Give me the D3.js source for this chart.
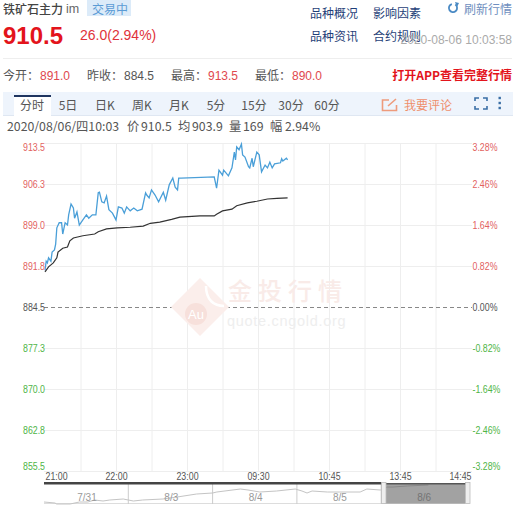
<!DOCTYPE html>
<html><head><meta charset="utf-8">
<script src="https://cdn.jsdelivr.net/npm/d3@7/dist/d3.min.js"></script>
<style>
html,body{margin:0;padding:0;background:#fff;overflow:hidden}
svg{display:block}
text{font-family:"Noto Sans CJK SC","Liberation Sans",sans-serif}
.num{font-family:"Liberation Sans",sans-serif}
</style></head><body><svg id="c" width="517" height="507"></svg>
<script>
// ---- data ----
const priceMinutes=[0,1,2,3,5,6,8,9,10,12,14,15,17,19,20,22,24,25,27,29,32,35,37,40,43,45,46,48,50,52,54,57,60,62,65,67,69,72,75,78,82,85,86,88,90,93,96,100,102,105,108,110,112,113,115,143,145,147,150,151,155,158,160,161,162,164,166,167,169,172,173,175,176,179,181,183,186,188,190,192,194,199,200,201,204,205];
const prices=[891.0,892.6,892.3,893.2,892.6,894.2,894.6,895.6,898.5,899.4,899.4,897.4,899.4,899.0,900.8,902.7,902.0,900.2,901.3,899.0,899.9,900.8,900.2,900.8,900.8,904.7,904.8,903.1,902.9,904.1,901.7,901.1,899.9,902.2,902.0,901.1,902.2,901.5,902.0,901.5,901.8,904.7,904.3,903.8,905.2,904.3,903.1,904.8,903.4,906.1,907.3,905.7,905.2,907.3,907.3,907.5,905.5,908.7,907.8,908.7,907.7,909.1,911.9,910.5,912.8,912.3,913.3,911.4,911.0,909.3,909.1,910.8,909.3,911.9,911.4,908.4,909.6,909.1,910.1,909.1,909.8,910.0,910.7,910.3,910.8,910.5];
const avgMinutes=[0,3,7,10,11,15,19,21,24,32,42,45,52,61,72,83,89,97,107,114,131,143,145,150,158,162,171,179,188,196,205];
const avgPrices=[890.7,891.6,892.3,893.2,894.2,894.9,895.1,896.2,896.7,897.1,897.4,897.8,898.3,898.5,898.6,898.8,899.3,899.5,900.0,900.4,900.6,900.6,900.9,901.5,901.8,902.4,902.9,903.2,903.6,903.7,903.8];
const priceTicks=[913.5,906.25,899,891.75,884.5,877.25,870,862.75,855.5];
const priceLabels=["913.5","906.3","899.0","891.8","884.5","877.3","870.0","862.8","855.5"];
const pctTicks=[3.28,2.46,1.64,0.82,0,-0.82,-1.64,-2.46,-3.28];
const pctLabels=["3.28%","2.46%","1.64%","0.82%","0.00%","-0.82%","-1.64%","-2.46%","-3.28%"];
const timeTicks=[0,60,120,180,240,300,360];
const timeLabels=["21:00","22:00","23:00","09:30","10:45","13:45","14:45"];
const gridMinutes=[30,60,90,120,150,180,210,240,270,300,330];
const sparkDays=[0,.13,.15,.31,.42,.52,.6,.7,.78,.94,1,1.06,1.17,1.41,1.58,1.81,2,2.05,2.33,2.42,2.56,2.76,2.98,3.06,3.12,3.18,3.36,3.51,3.75,3.83,3.99,4.07,4.14,4.31,4.56];
const sparkLevels=[2,1,0,0,2,2,4,3,4,5,4,3,4,5,7,10,11,12,15,14,12,13,15,13,11,13,12,12,12,15,14,17,17,18,19];
const dayLabels=["7/31","8/3","8/4","8/5","8/6"];
const tabs=["分时","5日","日K","周K","月K","5分","15分","30分","60分"];
const tabX=[32,68,105,142,179,216,254,291,327];
const stats=[["今开：","891.0",3],["昨收：","884.5",87],["最高：","913.5",171],["最低：","890.0",255]];
const links=[["品种概况",310,13],["影响因素",373,13],["品种资讯",310,36],["合约规则",373,36]];
const quoteInfo=[["2020/08/06/四10:03",7],["价",127],["910.5",141],["均",178],["903.9",192],["量",229],["169",243],["幅",270],["2.94%",285]];

const svg=d3.select("#c");
const T=(s,x,y,o={})=>svg.append("text").text(s).attr("x",x).attr("y",y)
  .attr("font-size",o.size||12).attr("fill",o.fill||"#555").attr("font-weight",o.w||400)
  .attr("text-anchor",o.a||"start").attr("class",o.cls||null).attr("letter-spacing",o.ls||null);
const squeeze=(sel,k)=>sel.each(function(){
  const w=this.getComputedTextLength();
  d3.select(this).attr("textLength",w*k).attr("lengthAdjust","spacingAndGlyphs");
});

// header
svg.append("rect").attr("x",87).attr("y",0).attr("width",44).attr("height",16).attr("fill","#dcebf9");
T("铁矿石主力",3,14,{size:12,fill:"#444",w:500});
T("im",66,13,{size:12.5,fill:"#666",cls:"num"});
T("交易中",92,14,{size:12,fill:"#5b9bd5"});
T("910.5",3,44,{size:24,fill:"#e3141c",w:700,cls:"num"});
T("26.0(2.94%)",80,40,{size:14,fill:"#e0323a",cls:"num"});
links.forEach(l=>T(l[0],l[1],l[2]+4.5,{size:12,fill:"#1f3f78"}));
T("2020-08-06 10:03:58",512,44,{size:12,fill:"#aaa",a:"end",cls:"num"});
T("刷新行情",464,14,{size:12,fill:"#6f8fc0"});
const r=svg.append("g").attr("transform","translate(453,8)");
r.append("path").attr("d",d3.arc()({innerRadius:3.2,outerRadius:5,startAngle:0.6,endAngle:6.0})).attr("fill","#4a8ac4");
r.append("path").attr("d","M2,-6 L6,-5 L4,-1 Z").attr("fill","#4a8ac4");
svg.append("line").attr("x1",3).attr("x2",512).attr("y1",58.5).attr("y2",58.5).attr("stroke","#eee");

// stats row
stats.forEach(s=>{
  T(s[0],s[2],80,{size:12,fill:"#555"});
  const red=s[0]!=="昨收：";
  T(s[1],s[2]+37,80,{size:12,fill:red?"#e0484e":"#555",cls:"num"});
});
T("打开APP查看完整行情",512,80,{size:12,fill:"#e3141c",a:"end",w:700});

// toolbar
svg.append("rect").attr("x",3).attr("y",92).attr("width",510).attr("height",23).attr("fill","#eef4fc");
svg.append("line").attr("x1",3).attr("x2",513).attr("y1",115.5).attr("y2",115.5).attr("stroke","#dfe7f2");
svg.append("rect").attr("x",14).attr("y",95).attr("width",37).attr("height",21).attr("fill","#fff");
svg.append("rect").attr("x",14).attr("y",95).attr("width",37).attr("height",2).attr("fill","#1f3560");
tabs.forEach((t,i)=>T(t,tabX[i],110,{size:12,fill:"#555",a:"middle"}));
svg.append("path").attr("d","M389,100H382.5V110.5H396.5V105 M388,106L396,99").attr("fill","none").attr("stroke","#ee9b7c").attr("stroke-width",1.6);
T("我要评论",404,110,{size:12,fill:"#ee8f6c"});
svg.append("path").attr("d","M475,101V98H479 M483,98H487V101 M487,106V109H483 M479,109H475V106").attr("fill","none").attr("stroke","#3a6ea5").attr("stroke-width",1.6);
[98,103,108].forEach(y=>svg.append("rect").attr("x",498.5).attr("y",y-1.2).attr("width",2.4).attr("height",2.4).attr("fill","#3a6ea5"));
quoteInfo.forEach(q=>T(q[0],q[1],131,{size:12.3,fill:"#555"}));

// scales
const x=d3.scaleLinear().domain([0,360]).range([45,471]);
const y=d3.scaleLinear().domain([855.5,913.5]).range([471,143]);
const yP=d3.scaleLinear().domain([-3.28,3.28]).range([471,143]);

// grid via axes
const gx=svg.append("g").attr("transform","translate(0,471)")
  .call(d3.axisBottom(x).tickValues(gridMinutes).tickSize(-328).tickFormat(""));
gx.select(".domain").remove(); gx.selectAll("line").attr("stroke","#eeeeee");
const gy=svg.append("g").attr("transform","translate(44,0)")
  .call(d3.axisLeft(y).tickValues(priceTicks).tickSize(-428).tickFormat(""));
gy.select(".domain").remove();
gy.selectAll("line").attr("stroke",d=>d===884.5?"none":"#eeeeee");
svg.append("line").attr("x1",44).attr("x2",472).attr("y1",y(884.5)+.5).attr("y2",y(884.5)+.5)
  .attr("stroke","#888").attr("stroke-dasharray","4 3");

// watermark
const wm=svg.append("g");
wm.append("path").attr("d","M200,278 L229,307 L200,336 L171,307 Z").attr("fill","#fbeeeb");
wm.append("path").attr("d","M206,286 C206,300 214,306 224,306").attr("fill","none").attr("stroke","#fff").attr("stroke-width",2.5);
wm.append("circle").attr("cx",196).attr("cy",314).attr("r",11).attr("fill","#f7e0db");
wm.append("text").text("Au").attr("x",196).attr("y",319).attr("text-anchor","middle").attr("font-size",13).attr("fill","#fff").attr("class","num");
wm.append("text").text("金投行情").attr("x",228).attr("y",300).attr("font-size",24).attr("letter-spacing",6).attr("fill","#f9ebe8").attr("font-weight",500);
wm.append("text").text("quote.cngold.org").attr("x",227).attr("y",326).attr("font-size",14.5).attr("letter-spacing",.7).attr("fill","#eeeeee").attr("class","num");

// lines
const line=(xs,ys)=>d3.line().x((d,i)=>x(xs[i])).y((d,i)=>y(ys[i]))(xs);
svg.append("path").attr("d",line(priceMinutes,prices)).attr("fill","none").attr("stroke","#4a9fd8").attr("stroke-width",1.3);
svg.append("path").attr("d",line(avgMinutes,avgPrices)).attr("fill","none").attr("stroke","#333").attr("stroke-width",1.2);

// axis labels
const col=v=>v>0?"#e2625f":v<0?"#4fb548":"#555";
const nudge=i=>i===0?4:i===8?-5:0;
const al=svg.append("g").attr("transform","translate(45,0)")
  .call(d3.axisLeft(y).tickValues(priceTicks).tickSize(0).tickPadding(0).tickFormat((d,i)=>priceLabels[i]));
al.select(".domain").remove();
al.selectAll("text").attr("class","num").attr("font-size",10).attr("font-family","Liberation Sans")
  .attr("fill",d=>col(d-884.5)).attr("dy",(d,i)=>(nudge(i)+3.5)+"px").call(squeeze,.88);
const ar=svg.append("g").attr("transform","translate(472.5,0)")
  .call(d3.axisRight(yP).tickValues(pctTicks).tickSize(0).tickPadding(0).tickFormat((d,i)=>pctLabels[i]));
ar.select(".domain").remove();
ar.selectAll("text").attr("class","num").attr("font-size",10).attr("font-family","Liberation Sans")
  .attr("fill",d=>col(d)).attr("dy",(d,i)=>(nudge(i)+3.5)+"px").call(squeeze,.88);
const ab=svg.append("g").attr("transform","translate(0,471)")
  .call(d3.axisBottom(x).tickValues(timeTicks).tickSize(0).tickPadding(2).tickFormat((d,i)=>timeLabels[i]));
ab.select(".domain").remove();
ab.selectAll("text").attr("class","num").attr("font-size",10.5).attr("font-family","Liberation Sans").attr("fill","#555")
  .attr("text-anchor",(d,i)=>i===0?"start":i===6?"end":"middle").call(squeeze,.84);

// navigator
const sx=d3.scaleLinear().domain([0,5]).range([44,465.5]);
const sy=d3.scaleLinear().domain([0,20]).range([504,484]);
svg.append("line").attr("x1",44).attr("x2",465).attr("y1",503.5).attr("y2",503.5).attr("stroke","#ddd");
[1,2,3,4].forEach(d=>svg.append("line").attr("x1",sx(d)).attr("x2",sx(d)).attr("y1",484).attr("y2",504).attr("stroke","#ccc"));
svg.append("path").attr("d",d3.line().x((d,i)=>sx(sparkDays[i])).y((d,i)=>sy(sparkLevels[i]))(sparkDays)).attr("fill","none").attr("stroke","#c4c4c4").attr("stroke-width",1);
dayLabels.forEach((l,i)=>T(l,sx(i+.51),501,{size:10,fill:"#999",a:"middle",cls:"num"}));
svg.append("rect").attr("x",sx(4.04)).attr("y",484).attr("width",sx(5)-sx(4.04)).attr("height",19.5).attr("fill","#555").attr("fill-opacity",.55);
svg.append("rect").attr("x",44).attr("y",482).attr("width",338).attr("height",2.5).attr("fill","#444");
svg.append("rect").attr("x",382).attr("y",483).attr("width",84).attr("height",1.5).attr("fill","#555");
[381.5,465.5].forEach(hx=>svg.append("rect").attr("x",hx).attr("y",482.5).attr("width",4.5).attr("height",21).attr("fill","#eee").attr("stroke","#bbb").attr("stroke-width",.8));
</script></body></html>
